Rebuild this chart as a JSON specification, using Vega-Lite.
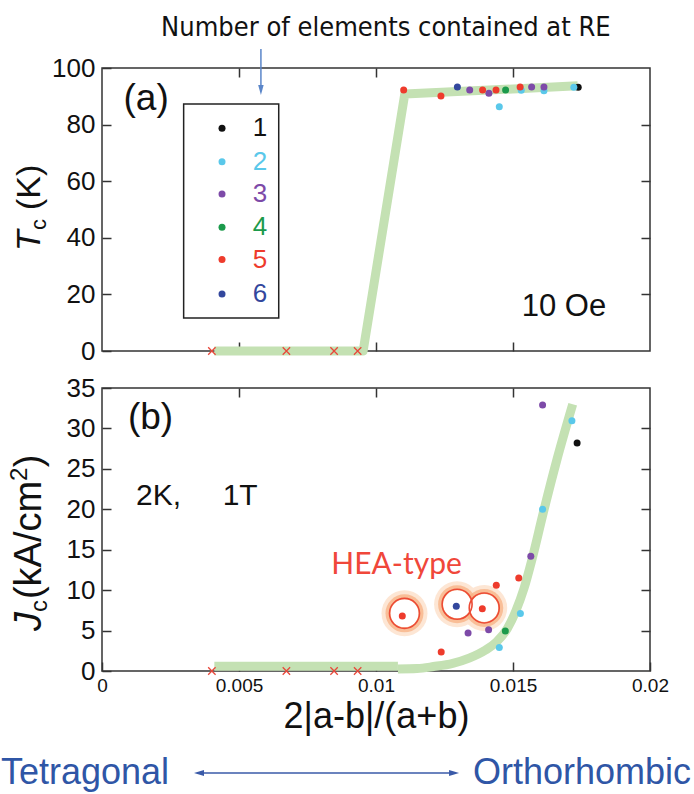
{
  "$schema": "https://vega.github.io/schema/vega-lite/v6.json",
  "padding": {"left": 0, "top": 13, "right": 0, "bottom": 0},
  "background": "white",
  "spacing": 37,
  "bounds": "flush",
  "config": {
    "view": {"stroke": "#333", "strokeWidth": 1.5},
    "font": "Liberation Sans",
    "axis": {"domain": false, "grid": false, "tickSize": -9, "tickWidth": 1.5, "tickColor": "#333", "labelFont": "Liberation Sans", "labelColor": "#111", "labelFontSize": 26, "labelPadding": 16, "labelFlush": false, "labelOverlap": false}
  },
  "datasets": {
    "topPts": [
      {"x": 0.01738, "y": 93.2, "n": 1},
      {"x": 0.0145, "y": 86.3, "n": 2},
      {"x": 0.0153, "y": 92.1, "n": 2},
      {"x": 0.01613, "y": 92.0, "n": 2},
      {"x": 0.01722, "y": 93.2, "n": 2},
      {"x": 0.01342, "y": 92.2, "n": 3},
      {"x": 0.01412, "y": 91.1, "n": 3},
      {"x": 0.01568, "y": 93.3, "n": 3},
      {"x": 0.01613, "y": 93.3, "n": 3},
      {"x": 0.01473, "y": 92.2, "n": 4},
      {"x": 0.01101, "y": 92.2, "n": 5},
      {"x": 0.01237, "y": 90.1, "n": 5},
      {"x": 0.01389, "y": 92.2, "n": 5},
      {"x": 0.01438, "y": 92.2, "n": 5},
      {"x": 0.01526, "y": 93.3, "n": 5},
      {"x": 0.01297, "y": 93.3, "n": 6}
    ],
    "botPts": [
      {"x": 0.01734, "y": 28.2, "n": 1},
      {"x": 0.01715, "y": 30.96, "n": 2},
      {"x": 0.01608, "y": 20.0, "n": 2},
      {"x": 0.01527, "y": 7.1, "n": 2},
      {"x": 0.0145, "y": 2.9, "n": 2},
      {"x": 0.01608, "y": 32.9, "n": 3},
      {"x": 0.01565, "y": 14.2, "n": 3},
      {"x": 0.01336, "y": 4.7, "n": 3},
      {"x": 0.01411, "y": 5.1, "n": 3},
      {"x": 0.01472, "y": 4.95, "n": 4},
      {"x": 0.01521, "y": 11.5, "n": 5},
      {"x": 0.01439, "y": 10.6, "n": 5},
      {"x": 0.01388, "y": 7.7, "n": 5},
      {"x": 0.01096, "y": 6.8, "n": 5},
      {"x": 0.01238, "y": 2.35, "n": 5},
      {"x": 0.01293, "y": 8.0, "n": 6}
    ],
    "crosses": [
      {"x": 0.00401, "y": 0},
      {"x": 0.00673, "y": 0},
      {"x": 0.00847, "y": 0},
      {"x": 0.00933, "y": 0}
    ],
    "legendDots": [
      {"n": 1, "x": 0.00438, "y": 78.7},
      {"n": 2, "x": 0.00438, "y": 66.9},
      {"n": 3, "x": 0.00438, "y": 55.5},
      {"n": 4, "x": 0.00438, "y": 43.7},
      {"n": 5, "x": 0.00438, "y": 32.3},
      {"n": 6, "x": 0.00438, "y": 20.1}
    ],
    "legendNums": [
      {"n": 1, "x": 0.00577, "y": 78.7},
      {"n": 2, "x": 0.00577, "y": 66.9},
      {"n": 3, "x": 0.00577, "y": 55.5},
      {"n": 4, "x": 0.00577, "y": 43.7},
      {"n": 5, "x": 0.00577, "y": 32.3},
      {"n": 6, "x": 0.00577, "y": 20.1}
    ],
    "hea": [
      {"x": 0.01104, "y": 7.13},
      {"x": 0.01296, "y": 8.25},
      {"x": 0.01395, "y": 7.8}
    ],
    "topLine": [
      {"x": 0.0041, "y": 0},
      {"x": 0.00953, "y": 0},
      {"x": 0.01105, "y": 90.8},
      {"x": 0.01736, "y": 93.7}
    ],
    "botLine": [
      {"seg": "a", "x": 0.0041, "y": 0.6},
      {"seg": "a", "x": 0.0108, "y": 0.6},
      {"seg": "b", "x": 0.0108, "y": 0.25},
      {"seg": "b", "x": 0.0115, "y": 0.3},
      {"seg": "b", "x": 0.0121, "y": 0.55},
      {"seg": "b", "x": 0.0128, "y": 0.95},
      {"seg": "b", "x": 0.0134, "y": 1.6},
      {"seg": "b", "x": 0.014, "y": 2.6},
      {"seg": "b", "x": 0.0144, "y": 3.6},
      {"seg": "b", "x": 0.0148, "y": 5.3},
      {"seg": "b", "x": 0.0151, "y": 7.4},
      {"seg": "b", "x": 0.0154, "y": 10.2},
      {"seg": "b", "x": 0.0157, "y": 13.9},
      {"seg": "b", "x": 0.0161, "y": 19.5},
      {"seg": "b", "x": 0.0166, "y": 26.1},
      {"seg": "b", "x": 0.01718, "y": 33.0}
    ]
  },
  "vconcat": [
    {
      "width": 548,
      "height": 283,
      "resolve": {"axis": {"x": "independent", "y": "independent"}},
      "encoding": {
        "x": {"field": "x", "type": "quantitative", "scale": {"domain": [0, 0.02], "nice": false, "zero": false}, "axis": null},
        "y": {"field": "y", "type": "quantitative", "scale": {"domain": [0, 100], "nice": false, "zero": false}, "axis": null}
      },
      "layer": [
        {
          "data": {"name": "topLine"},
          "mark": {"type": "line", "color": "#c4e1b3", "strokeWidth": 9, "strokeCap": "butt", "strokeJoin": "round"},
          "encoding": {
            "x": {"field": "x", "type": "quantitative", "scale": {"domain": [0, 0.02], "nice": false, "zero": false}, "axis": {"orient": "top", "labels": false, "values": [0.005, 0.01, 0.015], "title": null}},
            "y": {"field": "y", "type": "quantitative", "scale": {"domain": [0, 100], "nice": false, "zero": false}, "axis": {"orient": "right", "labels": false, "values": [20, 40, 60, 80], "title": null}}
          }
        },
        {
          "data": {"name": "crosses"},
          "mark": {"type": "point", "shape": "M-1,-1L1,1M-1,1L1,-1", "size": 55, "filled": false, "stroke": "#e8473a", "strokeWidth": 1.3, "opacity": 1}
        },
        {
          "data": {"values": [{"x": 0.00298, "x2": 0.00645, "y": 87.3, "y2": 11.7}]},
          "mark": {"type": "rect", "fill": "white", "stroke": "#222", "strokeWidth": 1.5},
          "encoding": {"x2": {"field": "x2"}, "y2": {"field": "y2"}}
        },
        {
          "data": {"name": "legendDots"},
          "mark": {"type": "circle", "size": 49, "opacity": 1},
          "encoding": {
            "color": {"field": "n", "type": "nominal", "scale": {"domain": [1, 2, 3, 4, 5, 6], "range": ["#111111", "#5ac8ea", "#7d4aa8", "#1b9a4b", "#ee3b2c", "#33479d"]}, "legend": null}
          }
        },
        {
          "data": {"name": "legendNums"},
          "mark": {"type": "text", "fontSize": 26, "font": "Liberation Sans", "align": "center", "baseline": "middle"},
          "encoding": {
            "text": {"field": "n"},
            "color": {"field": "n", "type": "nominal", "scale": {"domain": [1, 2, 3, 4, 5, 6], "range": ["#111111", "#5ac8ea", "#7d4aa8", "#1b9a4b", "#ee3b2c", "#33479d"]}, "legend": null}
          }
        },
        {
          "data": {"name": "topPts"},
          "mark": {"type": "circle", "size": 49, "opacity": 1},
          "encoding": {
            "x": {"field": "x", "type": "quantitative", "scale": {"domain": [0, 0.02], "nice": false, "zero": false}, "axis": {"orient": "bottom", "labels": false, "values": [0.005, 0.01, 0.015], "title": null}},
            "y": {"field": "y", "type": "quantitative", "scale": {"domain": [0, 100], "nice": false, "zero": false}, "axis": {"orient": "left", "values": [0, 20, 40, 60, 80, 100], "title": null}},
            "color": {"field": "n", "type": "nominal", "scale": {"domain": [1, 2, 3, 4, 5, 6], "range": ["#111111", "#5ac8ea", "#7d4aa8", "#1b9a4b", "#ee3b2c", "#33479d"]}, "legend": null}
          }
        },
        {
          "data": {"values": [{"x": 0.00161, "y": 89.0, "t": "(a)"}]},
          "mark": {"type": "text", "fontSize": 37, "font": "Liberation Sans", "color": "#111", "align": "center", "baseline": "middle"},
          "encoding": {"text": {"field": "t"}}
        },
        {
          "data": {"values": [{"x": 0.01686, "y": 15.7, "t": "10 Oe"}]},
          "mark": {"type": "text", "fontSize": 31, "font": "Liberation Sans", "color": "#111", "align": "center", "baseline": "middle"},
          "encoding": {"text": {"field": "t"}}
        },
        {
          "data": {"values": [{"x": -0.002263, "y": 35.3, "t": "T"}]},
          "mark": {"type": "text", "fontSize": 34, "fontStyle": "italic", "font": "Liberation Sans", "color": "#111", "angle": 270, "align": "left", "baseline": "alphabetic"},
          "encoding": {"text": {"field": "t"}}
        },
        {
          "data": {"values": [{"x": -0.002044, "y": 42.8, "t": "c"}]},
          "mark": {"type": "text", "fontSize": 22, "font": "Liberation Sans", "color": "#111", "angle": 270, "align": "left", "baseline": "alphabetic"},
          "encoding": {"text": {"field": "t"}}
        },
        {
          "data": {"values": [{"x": -0.002263, "y": 49.8, "t": "(K)"}]},
          "mark": {"type": "text", "fontSize": 34, "font": "Liberation Sans", "color": "#111", "angle": 270, "align": "left", "baseline": "alphabetic"},
          "encoding": {"text": {"field": "t"}}
        },
        {
          "data": {"values": [{"x": 0.01036, "y": 114.1, "t": "Number of elements contained at RE"}]},
          "mark": {"type": "text", "fontSize": 27, "font": "Liberation Sans Narrow, DejaVu Sans Condensed, sans-serif", "color": "#111", "align": "center", "baseline": "middle"},
          "encoding": {"text": {"field": "t"}}
        },
        {
          "data": {"values": [{"x": 0.0058, "y": 106.7, "y2": 93.5}]},
          "mark": {"type": "rule", "color": "#5b86c9", "strokeWidth": 1.5},
          "encoding": {"y2": {"field": "y2"}}
        },
        {
          "data": {"values": [{"x": 0.0058, "y": 92.2}]},
          "mark": {"type": "point", "shape": "M0,1L-0.55,-1L0.55,-1Z", "size": 100, "filled": true, "color": "#5b86c9", "opacity": 1}
        }
      ]
    },
    {
      "width": 548,
      "height": 283,
      "resolve": {"axis": {"x": "independent", "y": "independent"}},
      "encoding": {
        "x": {"field": "x", "type": "quantitative", "scale": {"domain": [0, 0.02], "nice": false, "zero": false}, "axis": null},
        "y": {"field": "y", "type": "quantitative", "scale": {"domain": [0, 35], "nice": false, "zero": false}, "axis": null}
      },
      "layer": [
        {
          "data": {"name": "botLine"},
          "mark": {"type": "line", "color": "#c4e1b3", "strokeWidth": 9, "strokeCap": "butt", "interpolate": "monotone"},
          "encoding": {
            "x": {"field": "x", "type": "quantitative", "scale": {"domain": [0, 0.02], "nice": false, "zero": false}, "axis": {"orient": "top", "labels": false, "values": [0.005, 0.01, 0.015], "title": null}},
            "y": {"field": "y", "type": "quantitative", "scale": {"domain": [0, 35], "nice": false, "zero": false}, "axis": {"orient": "right", "labels": false, "values": [5, 10, 15, 20, 25, 30], "title": null}},
            "detail": {"field": "seg"}
          }
        },
        {
          "data": {"name": "crosses"},
          "mark": {"type": "point", "shape": "M-1,-1L1,1M-1,1L1,-1", "size": 55, "filled": false, "stroke": "#e8473a", "strokeWidth": 1.3, "opacity": 1}
        },
        {
          "data": {"name": "hea"},
          "mark": {"type": "circle", "size": 2116, "color": "#fde6d4", "opacity": 1}
        },
        {
          "data": {"name": "hea"},
          "mark": {"type": "circle", "size": 1444, "color": "#f7b083", "opacity": 0.75}
        },
        {
          "data": {"name": "hea"},
          "mark": {"type": "circle", "size": 784, "color": "#ffffff", "opacity": 1}
        },
        {
          "data": {"name": "hea"},
          "mark": {"type": "point", "shape": "circle", "size": 900, "filled": false, "stroke": "#ec4b35", "strokeWidth": 1.6, "opacity": 1}
        },
        {
          "data": {"name": "botPts"},
          "mark": {"type": "circle", "size": 49, "opacity": 1},
          "encoding": {
            "x": {"field": "x", "type": "quantitative", "scale": {"domain": [0, 0.02], "nice": false, "zero": false}, "axis": {"orient": "bottom", "values": [0, 0.005, 0.01, 0.015, 0.02], "format": "~g", "labelFontSize": 19, "labelPadding": 14, "title": "2|a-b|/(a+b)", "titleFont": "Liberation Sans", "titleFontSize": 36, "titleFontWeight": "normal", "titleColor": "#111", "titlePadding": 4}},
            "y": {"field": "y", "type": "quantitative", "scale": {"domain": [0, 35], "nice": false, "zero": false}, "axis": {"orient": "left", "values": [0, 5, 10, 15, 20, 25, 30, 35], "title": null}},
            "color": {"field": "n", "type": "nominal", "scale": {"domain": [1, 2, 3, 4, 5, 6], "range": ["#111111", "#5ac8ea", "#7d4aa8", "#1b9a4b", "#ee3b2c", "#33479d"]}, "legend": null}
          }
        },
        {
          "data": {"values": [{"x": 0.00177, "y": 31.3, "t": "(b)"}]},
          "mark": {"type": "text", "fontSize": 37, "font": "Liberation Sans", "color": "#111", "align": "center", "baseline": "middle"},
          "encoding": {"text": {"field": "t"}}
        },
        {
          "data": {"values": [{"x": 0.00124, "y": 21.6, "t": "2K,\u00a0\u00a0\u00a0\u00a0\u00a01T"}]},
          "mark": {"type": "text", "fontSize": 30, "font": "Liberation Sans", "color": "#111", "align": "left", "baseline": "middle"},
          "encoding": {"text": {"field": "t"}}
        },
        {
          "data": {"values": [{"x": 0.01075, "y": 13.1, "t": "HEA-type"}]},
          "mark": {"type": "text", "fontSize": 30, "font": "Lato", "color": "#f0473a", "align": "center", "baseline": "middle"},
          "encoding": {"text": {"field": "t"}}
        },
        {
          "data": {"values": [{"x": -0.002226, "y": 4.95, "t": "J"}]},
          "mark": {"type": "text", "fontSize": 38, "fontStyle": "italic", "font": "Liberation Sans", "color": "#111", "angle": 270, "align": "left", "baseline": "alphabetic"},
          "encoding": {"text": {"field": "t"}}
        },
        {
          "data": {"values": [{"x": -0.002007, "y": 7.3, "t": "c"}]},
          "mark": {"type": "text", "fontSize": 24, "font": "Liberation Sans", "color": "#111", "angle": 270, "align": "left", "baseline": "alphabetic"},
          "encoding": {"text": {"field": "t"}}
        },
        {
          "data": {"values": [{"x": -0.002226, "y": 8.9, "t": "(kA/cm"}, {"x": -0.002226, "y": 25.2, "t": ")"}]},
          "mark": {"type": "text", "fontSize": 38, "font": "Liberation Sans", "color": "#111", "angle": 270, "align": "left", "baseline": "alphabetic"},
          "encoding": {"text": {"field": "t"}}
        },
        {
          "data": {"values": [{"x": -0.002737, "y": 23.5, "t": "2"}]},
          "mark": {"type": "text", "fontSize": 24, "font": "Liberation Sans", "color": "#111", "angle": 270, "align": "left", "baseline": "alphabetic"},
          "encoding": {"text": {"field": "t"}}
        },
        {
          "data": {"values": [{"x": -0.003686, "y": -13.98, "t": "Tetragonal"}]},
          "mark": {"type": "text", "fontSize": 36, "font": "Liberation Sans", "color": "#2f56a6", "align": "left", "baseline": "alphabetic"},
          "encoding": {"text": {"field": "t"}}
        },
        {
          "data": {"values": [{"x": 0.0215, "y": -13.98, "t": "Orthorhombic"}]},
          "mark": {"type": "text", "fontSize": 36, "font": "Liberation Sans", "color": "#2f56a6", "align": "right", "baseline": "alphabetic"},
          "encoding": {"text": {"field": "t"}}
        },
        {
          "data": {"values": [{"x": 0.0036, "x2": 0.0128, "y": -12.6}]},
          "mark": {"type": "rule", "color": "#3a5aa8", "strokeWidth": 1.5},
          "encoding": {"x2": {"field": "x2"}}
        },
        {
          "data": {"values": [{"x": 0.00354, "y": -12.6}]},
          "mark": {"type": "point", "shape": "M-1,0L1,-0.6L1,0.6Z", "size": 100, "filled": true, "color": "#3a5aa8", "opacity": 1}
        },
        {
          "data": {"values": [{"x": 0.01285, "y": -12.6}]},
          "mark": {"type": "point", "shape": "M1,0L-1,-0.6L-1,0.6Z", "size": 100, "filled": true, "color": "#3a5aa8", "opacity": 1}
        }
      ]
    }
  ]
}
